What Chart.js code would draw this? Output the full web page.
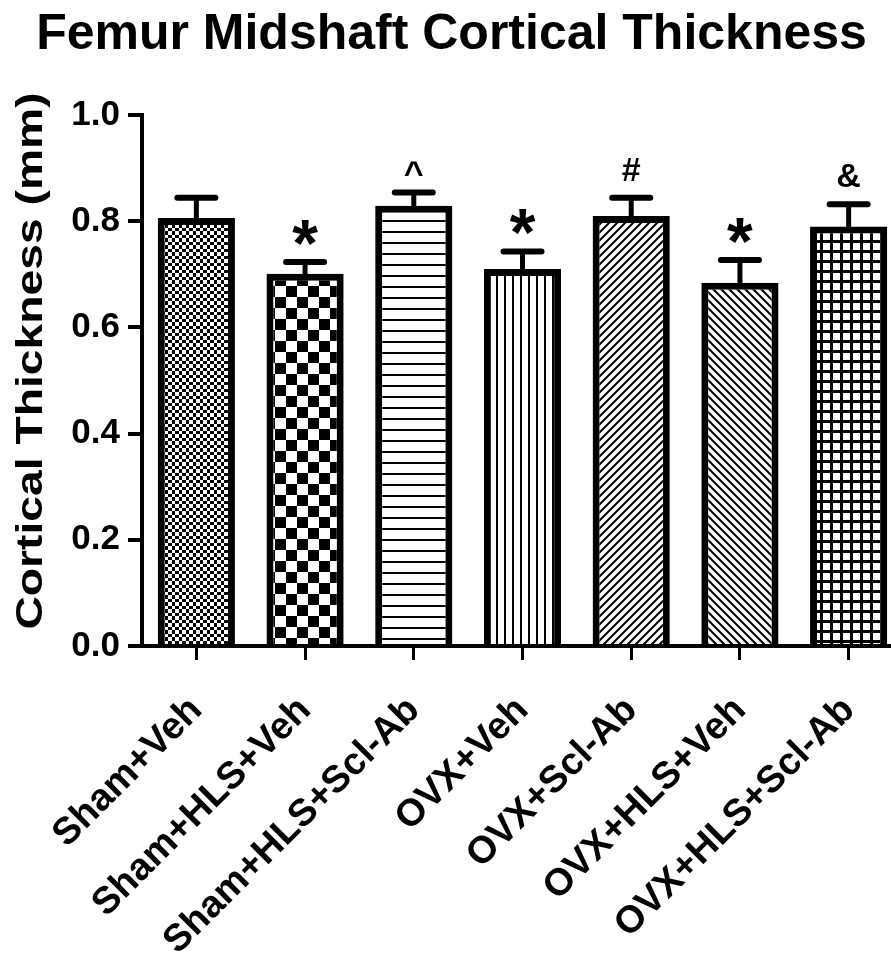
<!DOCTYPE html>
<html><head><meta charset="utf-8">
<script src="https://cdn.jsdelivr.net/npm/chart.js@4/dist/chart.umd.min.js"></script>
<style>
html,body{margin:0;padding:0;background:#fff;overflow:hidden;}
canvas{display:block;}
</style></head>
<body>
<canvas id="c" width="946" height="958"></canvas>
<script>
const categories = ['Sham+Veh','Sham+HLS+Veh','Sham+HLS+Scl-Ab','OVX+Veh','OVX+Scl-Ab','OVX+HLS+Veh','OVX+HLS+Scl-Ab'];
const means = [0.806, 0.701, 0.829, 0.710, 0.810, 0.684, 0.790];
const sems = [0.038, 0.022, 0.025, 0.033, 0.034, 0.043, 0.042];
const marks = ['', '*', '^', '*', '#', '*', '&'];
const patternKinds = ['dots','checker','hlines','vlines','diagUp','diagDown','grid'];
const yTickValues = [0, 0.2, 0.4, 0.6, 0.8, 1.0];
const titleText = 'Femur Midshaft Cortical Thickness';
const yAxisTitle = 'Cortical Thickness (mm)';

const FAMILY = '"Liberation Sans", Arial, Helvetica, sans-serif';

function makePattern(kind){
  const c = document.createElement('canvas');
  const ctx = c.getContext('2d');
  let s = 8;
  if (kind === 'dots') s = 7;
  if (kind === 'checker') s = 22;
  if (kind === 'hlines') s = 11;
  if (kind === 'grid') s = 10;
  c.width = s; c.height = s;
  ctx.fillStyle = '#fff'; ctx.fillRect(0,0,s,s);
  ctx.fillStyle = '#000'; ctx.strokeStyle = '#000';
  switch(kind){
    case 'dots':
      ctx.fillRect(0,0,s,s);
      ctx.fillStyle = '#fff';
      ctx.fillRect(0,0,4,4); ctx.fillRect(4,4,3,3);
      break;
    case 'checker':
      ctx.fillRect(0,0,11,11); ctx.fillRect(11,11,11,11);
      break;
    case 'hlines':
      ctx.fillRect(0,0,s,2);
      break;
    case 'vlines':
      ctx.fillRect(0,0,2,s);
      break;
    case 'diagUp':
      ctx.lineWidth = 2;
      ctx.beginPath();
      ctx.moveTo(-1,s+1); ctx.lineTo(s+1,-1);
      ctx.moveTo(-2,2); ctx.lineTo(2,-2);
      ctx.moveTo(s-2,s+2); ctx.lineTo(s+2,s-2);
      ctx.stroke();
      break;
    case 'diagDown':
      ctx.lineWidth = 2;
      ctx.beginPath();
      ctx.moveTo(-1,-1); ctx.lineTo(s+1,s+1);
      ctx.moveTo(-2,s-2); ctx.lineTo(2,s+2);
      ctx.moveTo(s-2,-2); ctx.lineTo(s+2,2);
      ctx.stroke();
      break;
    case 'grid':
      ctx.fillRect(0,0,s,3); ctx.fillRect(0,0,3,s);
      break;
  }
  return document.getElementById('c').getContext('2d').createPattern(c,'repeat');
}
const patterns = patternKinds.map(makePattern);

const errorBarPlugin = {
  id: 'errorBars',
  afterDatasetsDraw(chart){
    const ctx = chart.ctx;
    const meta = chart.getDatasetMeta(0);
    const yScale = chart.scales.y;
    ctx.save();
    ctx.strokeStyle = '#000';
    ctx.fillStyle = '#000';
    meta.data.forEach((bar, i) => {
      const x = bar.x;
      const yTop = bar.y;
      const yCap = yScale.getPixelForValue(means[i] + sems[i]);
      ctx.lineCap = 'butt';
      ctx.lineWidth = 5;
      ctx.beginPath(); ctx.moveTo(x, yTop + 2); ctx.lineTo(x, yCap); ctx.stroke();
      ctx.lineCap = 'round';
      ctx.lineWidth = 6;
      ctx.beginPath(); ctx.moveTo(x - 19, yCap); ctx.lineTo(x + 19, yCap); ctx.stroke();
      const m = marks[i];
      if (m) {
        const size = m === '*' ? 66 : 34;
        ctx.font = 'bold ' + size + 'px ' + FAMILY;
        ctx.textAlign = 'center';
        ctx.textBaseline = 'alphabetic';
        const tm = ctx.measureText(m);
        const bottomGap = 17;
        const baseY = yCap - bottomGap - tm.actualBoundingBoxDescent;
        ctx.fillText(m, x, baseY);
      }
    });
    ctx.restore();
  }
};

const yTitlePlugin = {
  id: 'yTitle',
  afterDraw(chart){
    const ctx = chart.ctx;
    ctx.save();
    ctx.fillStyle = '#000';
    ctx.font = 'bold 37px ' + FAMILY;
    ctx.textAlign = 'center';
    ctx.textBaseline = 'middle';
    ctx.translate(32, 361);
    ctx.rotate(-Math.PI/2);
    ctx.scale(1.25, 1);
    ctx.fillText(yAxisTitle, 0, 0);
    ctx.restore();
  }
};

new Chart(document.getElementById('c'), {
  type: 'bar',
  data: {
    labels: categories,
    datasets: [{
      data: means,
      backgroundColor: patterns,
      borderColor: '#000',
      borderWidth: 7,
      borderSkipped: 'start',
      barPercentage: 0.71,
      categoryPercentage: 1.0
    }]
  },
  options: {
    responsive: false,
    animation: false,
    devicePixelRatio: 1,
    layout: { padding: { left: 0, right: 43, top: 0, bottom: 0 } },
    plugins: {
      legend: { display: false },
      tooltip: { enabled: false },
      title: {
        display: true, text: titleText, color: '#000',
        font: { family: FAMILY, size: 50, weight: 'bold' },
        padding: { top: 5, bottom: 50 }
      }
    },
    scales: {
      x: {
        offset: true,
        grid: { display: true, offset: false, drawOnChartArea: false, drawTicks: true, tickLength: 14, lineWidth: 3, color: '#000' },
        border: { display: true, color: '#000', width: 4 },
        ticks: { color: '#000', font: { family: FAMILY, size: 38, weight: 'bold' }, maxRotation: 45, minRotation: 45, autoSkip: false, padding: 28 },
        afterFit: s => { s.height = 312; }
      },
      y: {
        min: 0, max: 1,
        afterBuildTicks: s => { s.ticks = yTickValues.map(v => ({ value: v })); },
        grid: { drawOnChartArea: false, drawTicks: true, tickLength: 14, lineWidth: 4, color: '#000' },
        border: { display: true, color: '#000', width: 4 },
        ticks: { color: '#000', font: { family: FAMILY, size: 35, weight: 'bold' }, padding: 8, callback: v => Number(v).toFixed(1) },
        afterFit: s => { s.width = 142; }
      }
    }
  },
  plugins: [errorBarPlugin, yTitlePlugin]
});
</script>
</body></html>
